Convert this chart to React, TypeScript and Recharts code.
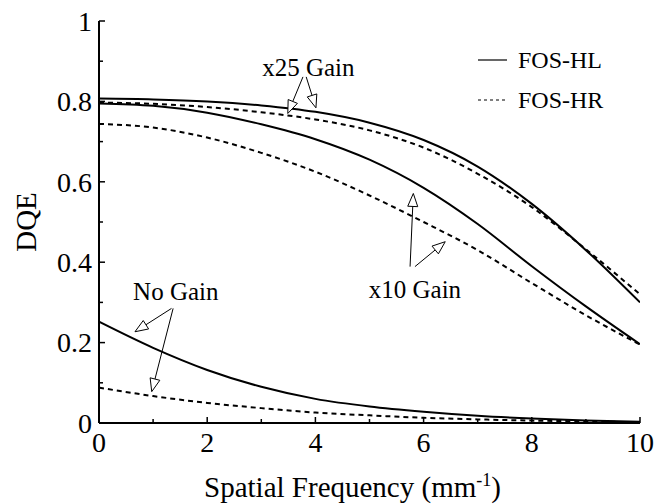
import {
  LineChart,
  Line,
  XAxis,
  YAxis,
  Legend,
  ReferenceLine,
  ReferenceDot,
} from "recharts";

// spatial frequency (mm^-1)
const freq = [0, 1, 2, 3, 4, 5, 6, 7, 8, 9, 10];

// DQE
const hlGain25 = [0.807, 0.805, 0.8, 0.79, 0.774, 0.747, 0.704, 0.638, 0.545, 0.43, 0.3];
const hrGain25 = [0.797, 0.794, 0.786, 0.773, 0.755, 0.728, 0.685, 0.62, 0.537, 0.432, 0.32];
const hlGain10 = [0.795, 0.789, 0.772, 0.743, 0.706, 0.655, 0.585, 0.495, 0.39, 0.29, 0.196];
const hrGain10 = [0.744, 0.735, 0.71, 0.672, 0.625, 0.566, 0.5, 0.43, 0.348, 0.268, 0.195];
const hlNoGain = [0.252, 0.187, 0.132, 0.09, 0.06, 0.041, 0.028, 0.018, 0.011, 0.006, 0.003];
const hrNoGain = [0.088, 0.067, 0.05, 0.037, 0.026, 0.019, 0.013, 0.009, 0.006, 0.004, 0.002];

const xTicks = [0, 1, 2, 3, 4, 5, 6, 7, 8, 9, 10];
const xLabelled = [0, 2, 4, 6, 8, 10];
const yTicks = [0, 0.1, 0.2, 0.3, 0.4, 0.5, 0.6, 0.7, 0.8, 0.9, 1];
const yLabelled = [0, 0.2, 0.4, 0.6, 0.8, 1];

const legendItems = [
  { label: "FOS-HL", dash: undefined },
  { label: "FOS-HR", dash: "3 3" },
];

const noteLabels = [
  { text: "x25 Gain", x: 3.87, y: 0.863 },
  { text: "No Gain", x: 1.42, y: 0.306 },
  { text: "x10 Gain", x: 5.84, y: 0.311 },
];

const noteArrows = [
  { from: [3.77, 0.861], to: [3.49, 0.77] },
  { from: [3.83, 0.861], to: [4.01, 0.784] },
  { from: [1.34, 0.285], to: [0.665, 0.227] },
  { from: [1.37, 0.285], to: [0.975, 0.078] },
  { from: [5.75, 0.389], to: [5.81, 0.571] },
  { from: [5.84, 0.389], to: [6.4, 0.451] },
];

const data = freq.map((f, i) => ({
  freq: f,
  hl25: hlGain25[i],
  hr25: hrGain25[i],
  hl10: hlGain10[i],
  hr10: hrGain10[i],
  hl0: hlNoGain[i],
  hr0: hrNoGain[i],
}));

const FONT = "Liberation Serif";
const axisLine = { stroke: "#000", strokeWidth: 2 };

const BottomTick = ({ x, y, payload }: any) => {
  const major = xLabelled.includes(payload.value);
  return (
    <g>
      <line x1={x} y1={y} x2={x} y2={y - (major ? 6 : 4)} stroke="#000" strokeWidth={1.5} />
      {major && (
        <text x={x} y={y + 29} textAnchor="middle" fontSize={28} fontFamily={FONT} fill="#000">
          {payload.value}
        </text>
      )}
    </g>
  );
};

const TopTick = ({ x, y, payload }: any) => {
  const major = xLabelled.includes(payload.value);
  return <line x1={x} y1={y} x2={x} y2={y + (major ? 6 : 4)} stroke="#000" strokeWidth={1.5} />;
};

const LeftTick = ({ x, y, payload }: any) => {
  const major = yLabelled.includes(payload.value);
  return (
    <g>
      <line x1={x} y1={y} x2={x + (major ? 6 : 4)} y2={y} stroke="#000" strokeWidth={1.5} />
      {major && (
        <text x={x - 7} y={y} dy="0.35em" textAnchor="end" fontSize={28} fontFamily={FONT} fill="#000">
          {payload.value}
        </text>
      )}
    </g>
  );
};

const RightTick = ({ x, y, payload }: any) => {
  const major = yLabelled.includes(payload.value);
  return <line x1={x} y1={y} x2={x - (major ? 6 : 4)} y2={y} stroke="#000" strokeWidth={1.5} />;
};

const XTitle = ({ viewBox }: any) => (
  <text
    x={viewBox.x + viewBox.width / 2 - 17}
    y={viewBox.y + 74}
    textAnchor="middle"
    fontSize={29}
    fontFamily={FONT}
    fill="#000"
  >
    <tspan>Spatial Frequency (mm</tspan>
    <tspan dy={-11} fontSize={18}>-1</tspan>
    <tspan dy={11}>)</tspan>
  </text>
);

const YTitle = ({ viewBox }: any) => {
  const cx = viewBox.x - 13;
  const cy = viewBox.y + viewBox.height / 2;
  return (
    <text
      x={cx}
      y={cy}
      dy="0.35em"
      transform={`rotate(-90, ${cx}, ${cy})`}
      textAnchor="middle"
      fontSize={29}
      fontFamily={FONT}
      fill="#000"
    >
      DQE
    </text>
  );
};

const ArrowShape = (p: any) => {
  const { x1, y1, x2, y2 } = p;
  const dx = x2 - x1;
  const dy = y2 - y1;
  const len = Math.hypot(dx, dy) || 1;
  const ux = dx / len;
  const uy = dy / len;
  const head = 13;
  const half = 5;
  const bx = x2 - ux * head;
  const by = y2 - uy * head;
  const pts = `${x2},${y2} ${bx - uy * half},${by + ux * half} ${bx + uy * half},${by - ux * half}`;
  return (
    <g>
      <line x1={x1} y1={y1} x2={bx} y2={by} stroke="#000" strokeWidth={1} />
      <polygon points={pts} fill="#fff" stroke="#000" strokeWidth={1} />
    </g>
  );
};

const LegendContent = () => (
  <div style={{ fontFamily: FONT, fontSize: 24, color: "#000" }}>
    {legendItems.map((item) => (
      <div key={item.label} style={{ display: "flex", alignItems: "center", height: 40 }}>
        <svg width={30} height={10}>
          <line x1={0} y1={5} x2={29} y2={5} stroke="#000" strokeWidth={1.2} strokeDasharray={item.dash} />
        </svg>
        <span style={{ marginLeft: 10 }}>{item.label}</span>
      </div>
    ))}
  </div>
);

const solid = { stroke: "#000", strokeWidth: 2 };
const dashed = { stroke: "#000", strokeWidth: 2, strokeDasharray: "5 4" };

export default function App() {
  return (
    <div style={{ position: "absolute", left: 0, top: 0, background: "#fff", fontFamily: FONT }}>
      <LineChart width={669} height={504} data={data} margin={{ top: 21, right: 29, left: 39, bottom: 21 }}>
        <XAxis
          dataKey="freq"
          type="number"
          domain={[0, 10]}
          ticks={xTicks}
          interval={0}
          tick={<BottomTick />}
          tickLine={false}
          tickSize={0}
          tickMargin={0}
          axisLine={axisLine}
          height={60}
          allowDataOverflow
          label={{ content: <XTitle /> }}
        />
        <XAxis
          xAxisId="top"
          orientation="top"
          type="number"
          domain={[0, 10]}
          ticks={xTicks}
          interval={0}
          tick={<TopTick />}
          tickLine={false}
          tickSize={0}
          tickMargin={0}
          axisLine={axisLine}
          height={0}
          allowDataOverflow
        />
        <YAxis
          type="number"
          domain={[0, 1]}
          ticks={yTicks}
          interval={0}
          tick={<LeftTick />}
          tickLine={false}
          tickSize={0}
          tickMargin={0}
          axisLine={axisLine}
          width={60}
          allowDataOverflow
          label={{ content: <YTitle /> }}
        />
        <YAxis
          yAxisId="right"
          orientation="right"
          type="number"
          domain={[0, 1]}
          ticks={yTicks}
          interval={0}
          tick={<RightTick />}
          tickLine={false}
          tickSize={0}
          tickMargin={0}
          axisLine={axisLine}
          width={0}
          allowDataOverflow
        />
        <Legend
          layout="vertical"
          align="center"
          verticalAlign="middle"
          content={<LegendContent />}
          wrapperStyle={{ left: 478, top: 40, width: "auto", height: "auto" }}
        />
        <Line dataKey="hl25" name="FOS-HL" type="monotone" dot={false} {...solid} isAnimationActive={false} />
        <Line dataKey="hr25" name="FOS-HR" type="monotone" dot={false} {...dashed} isAnimationActive={false} />
        <Line dataKey="hl10" legendType="none" type="monotone" dot={false} {...solid} isAnimationActive={false} />
        <Line dataKey="hr10" legendType="none" type="monotone" dot={false} {...dashed} isAnimationActive={false} />
        <Line dataKey="hl0" legendType="none" type="monotone" dot={false} {...solid} isAnimationActive={false} />
        <Line dataKey="hr0" legendType="none" type="monotone" dot={false} {...dashed} isAnimationActive={false} />
        {noteArrows.map((a, i) => (
          <ReferenceLine
            key={`arrow-${i}`}
            segment={[
              { x: a.from[0], y: a.from[1] },
              { x: a.to[0], y: a.to[1] },
            ]}
            shape={ArrowShape}
            ifOverflow="visible"
          />
        ))}
        {noteLabels.map((n) => (
          <ReferenceDot
            key={n.text}
            x={n.x}
            y={n.y}
            r={0}
            ifOverflow="visible"
            shape={(p: any) => (
              <text x={p.cx} y={p.cy} textAnchor="middle" fontSize={25} fontFamily={FONT} fill="#000">
                {n.text}
              </text>
            )}
          />
        ))}
      </LineChart>
    </div>
  );
}
